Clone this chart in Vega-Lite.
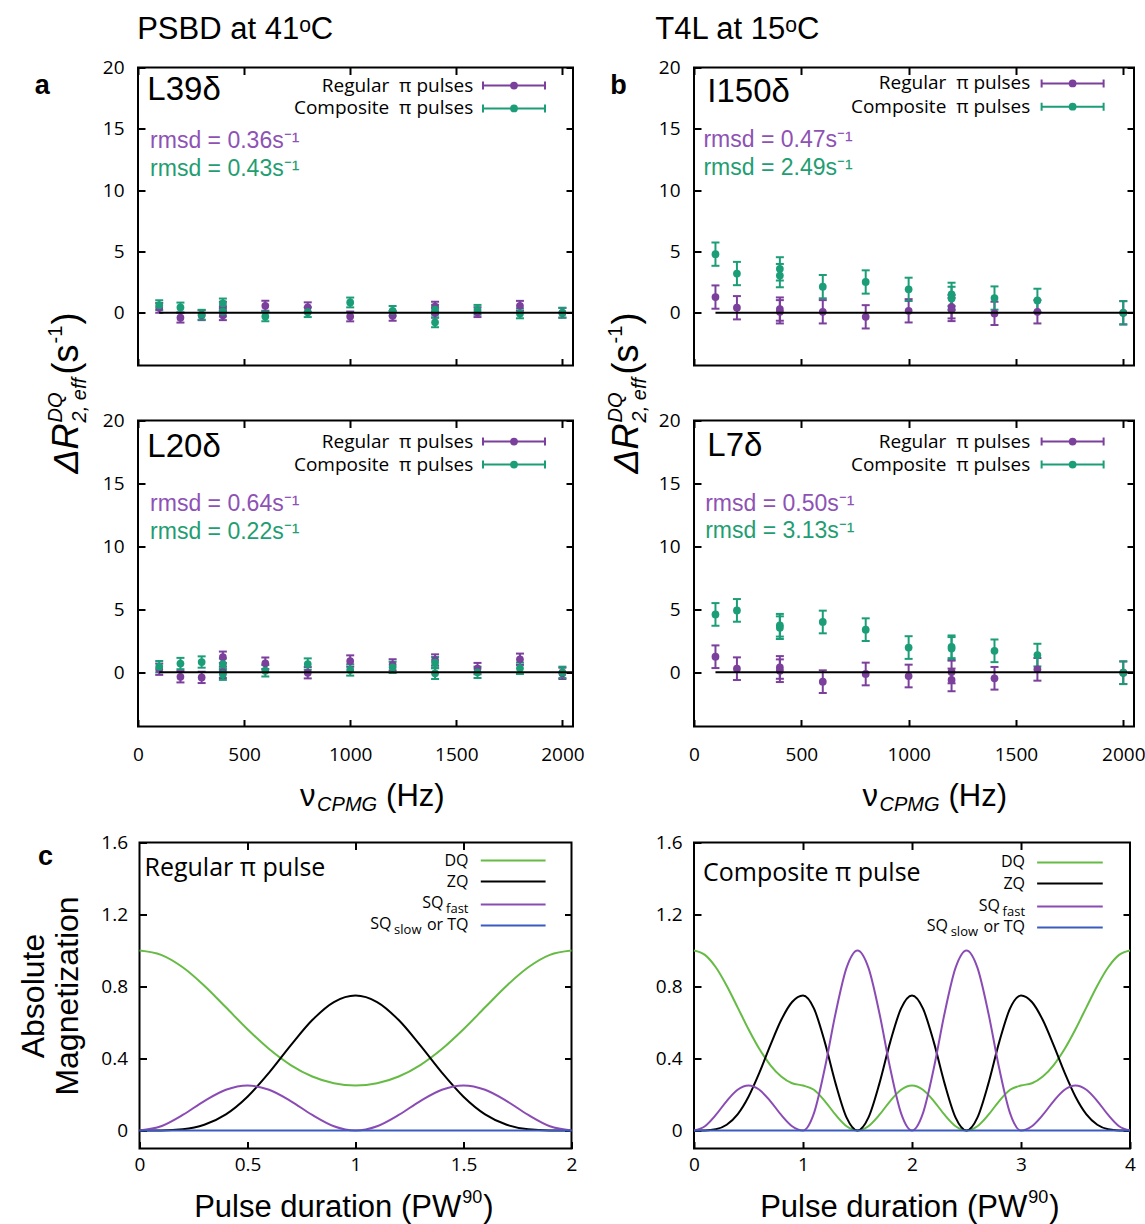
{
"$schema": "https://vega.github.io/schema/vega-lite/v6.json",
"background": "white",
"padding": {"left": 16, "top": 12.5, "right": 0, "bottom": 0},
"config": {
  "view": {"stroke": "black", "strokeWidth": 2},
  "axis": {"grid": false, "domain": false, "ticks": true, "tickSize": -7, "tickWidth": 2, "tickColor": "black", "labelFont": "Open Sans", "labelFontSize": 19, "labelColor": "black", "labelFlush": false, "labelOverlap": false, "titleFont": "Liberation Sans", "titleFontWeight": "normal", "titleColor": "black"},
  "text": {"color": "black"}
},
"datasets": {
"pts": [
{"panel":"a","series":"Regular","nu":100,"v":0.4,"err":0.4},
{"panel":"a","series":"Regular","nu":200,"v":-0.4,"err":0.4},
{"panel":"a","series":"Regular","nu":300,"v":-0.2,"err":0.4},
{"panel":"a","series":"Regular","nu":400,"v":0.5,"err":0.4},
{"panel":"a","series":"Regular","nu":400,"v":-0.2,"err":0.4},
{"panel":"a","series":"Regular","nu":600,"v":0.57,"err":0.4},
{"panel":"a","series":"Regular","nu":800,"v":0.45,"err":0.4},
{"panel":"a","series":"Regular","nu":1000,"v":-0.3,"err":0.4},
{"panel":"a","series":"Regular","nu":1200,"v":-0.25,"err":0.4},
{"panel":"a","series":"Regular","nu":1400,"v":0.5,"err":0.4},
{"panel":"a","series":"Regular","nu":1400,"v":0.0,"err":0.4},
{"panel":"a","series":"Regular","nu":1600,"v":0.05,"err":0.4},
{"panel":"a","series":"Regular","nu":1800,"v":0.57,"err":0.4},
{"panel":"a","series":"Regular","nu":2000,"v":0.0,"err":0.4},
{"panel":"a","series":"Composite","nu":100,"v":0.62,"err":0.4},
{"panel":"a","series":"Composite","nu":200,"v":0.43,"err":0.4},
{"panel":"a","series":"Composite","nu":300,"v":-0.16,"err":0.4},
{"panel":"a","series":"Composite","nu":400,"v":0.76,"err":0.4},
{"panel":"a","series":"Composite","nu":400,"v":0.1,"err":0.4},
{"panel":"a","series":"Composite","nu":600,"v":-0.3,"err":0.4},
{"panel":"a","series":"Composite","nu":800,"v":0.05,"err":0.4},
{"panel":"a","series":"Composite","nu":1000,"v":0.84,"err":0.4},
{"panel":"a","series":"Composite","nu":1200,"v":0.16,"err":0.4},
{"panel":"a","series":"Composite","nu":1400,"v":0.25,"err":0.4},
{"panel":"a","series":"Composite","nu":1400,"v":-0.78,"err":0.4},
{"panel":"a","series":"Composite","nu":1600,"v":0.24,"err":0.4},
{"panel":"a","series":"Composite","nu":1800,"v":-0.05,"err":0.4},
{"panel":"a","series":"Composite","nu":2000,"v":0.0,"err":0.4},
{"panel":"a2","series":"Regular","nu":100,"v":0.25,"err":0.45},
{"panel":"a2","series":"Regular","nu":200,"v":-0.35,"err":0.45},
{"panel":"a2","series":"Regular","nu":300,"v":-0.4,"err":0.45},
{"panel":"a2","series":"Regular","nu":400,"v":1.2,"err":0.45},
{"panel":"a2","series":"Regular","nu":400,"v":0.0,"err":0.45},
{"panel":"a2","series":"Regular","nu":600,"v":0.72,"err":0.45},
{"panel":"a2","series":"Regular","nu":800,"v":-0.03,"err":0.45},
{"panel":"a2","series":"Regular","nu":1000,"v":0.9,"err":0.45},
{"panel":"a2","series":"Regular","nu":1200,"v":0.6,"err":0.45},
{"panel":"a2","series":"Regular","nu":1400,"v":0.98,"err":0.45},
{"panel":"a2","series":"Regular","nu":1600,"v":0.3,"err":0.45},
{"panel":"a2","series":"Regular","nu":1800,"v":1.04,"err":0.45},
{"panel":"a2","series":"Regular","nu":2000,"v":-0.08,"err":0.45},
{"panel":"a2","series":"Composite","nu":100,"v":0.45,"err":0.45},
{"panel":"a2","series":"Composite","nu":200,"v":0.7,"err":0.45},
{"panel":"a2","series":"Composite","nu":300,"v":0.82,"err":0.45},
{"panel":"a2","series":"Composite","nu":400,"v":0.65,"err":0.45},
{"panel":"a2","series":"Composite","nu":400,"v":-0.15,"err":0.45},
{"panel":"a2","series":"Composite","nu":600,"v":0.13,"err":0.45},
{"panel":"a2","series":"Composite","nu":800,"v":0.66,"err":0.45},
{"panel":"a2","series":"Composite","nu":1000,"v":0.19,"err":0.45},
{"panel":"a2","series":"Composite","nu":1200,"v":0.4,"err":0.45},
{"panel":"a2","series":"Composite","nu":1400,"v":0.77,"err":0.45},
{"panel":"a2","series":"Composite","nu":1400,"v":-0.08,"err":0.45},
{"panel":"a2","series":"Composite","nu":1600,"v":0.0,"err":0.45},
{"panel":"a2","series":"Composite","nu":1800,"v":0.32,"err":0.45},
{"panel":"a2","series":"Composite","nu":2000,"v":0.0,"err":0.45},
{"panel":"b","series":"Regular","nu":100,"v":1.28,"err":0.95},
{"panel":"b","series":"Regular","nu":200,"v":0.41,"err":0.95},
{"panel":"b","series":"Regular","nu":400,"v":0.3,"err":0.95},
{"panel":"b","series":"Regular","nu":400,"v":0.08,"err":0.95},
{"panel":"b","series":"Regular","nu":600,"v":0.08,"err":0.95},
{"panel":"b","series":"Regular","nu":800,"v":-0.33,"err":0.95},
{"panel":"b","series":"Regular","nu":1000,"v":0.16,"err":0.95},
{"panel":"b","series":"Regular","nu":1200,"v":0.49,"err":0.95},
{"panel":"b","series":"Regular","nu":1200,"v":0.27,"err":0.95},
{"panel":"b","series":"Regular","nu":1400,"v":-0.05,"err":0.95},
{"panel":"b","series":"Regular","nu":1600,"v":0.08,"err":0.95},
{"panel":"b","series":"Regular","nu":2000,"v":0.0,"err":0.95},
{"panel":"b","series":"Composite","nu":100,"v":4.78,"err":0.95},
{"panel":"b","series":"Composite","nu":200,"v":3.2,"err":0.95},
{"panel":"b","series":"Composite","nu":400,"v":3.58,"err":0.95},
{"panel":"b","series":"Composite","nu":400,"v":3.03,"err":0.95},
{"panel":"b","series":"Composite","nu":600,"v":2.13,"err":0.95},
{"panel":"b","series":"Composite","nu":800,"v":2.51,"err":0.95},
{"panel":"b","series":"Composite","nu":1000,"v":1.91,"err":0.95},
{"panel":"b","series":"Composite","nu":1200,"v":1.5,"err":0.95},
{"panel":"b","series":"Composite","nu":1200,"v":1.17,"err":0.95},
{"panel":"b","series":"Composite","nu":1400,"v":1.2,"err":0.95},
{"panel":"b","series":"Composite","nu":1600,"v":1.01,"err":0.95},
{"panel":"b","series":"Composite","nu":2000,"v":0.0,"err":0.95},
{"panel":"b2","series":"Regular","nu":100,"v":1.24,"err":0.9},
{"panel":"b2","series":"Regular","nu":200,"v":0.29,"err":0.9},
{"panel":"b2","series":"Regular","nu":400,"v":0.39,"err":0.9},
{"panel":"b2","series":"Regular","nu":400,"v":0.13,"err":0.9},
{"panel":"b2","series":"Regular","nu":600,"v":-0.74,"err":0.9},
{"panel":"b2","series":"Regular","nu":800,"v":-0.13,"err":0.9},
{"panel":"b2","series":"Regular","nu":1000,"v":-0.29,"err":0.9},
{"panel":"b2","series":"Regular","nu":1200,"v":0.03,"err":0.9},
{"panel":"b2","series":"Regular","nu":1200,"v":-0.6,"err":0.9},
{"panel":"b2","series":"Regular","nu":1400,"v":-0.47,"err":0.9},
{"panel":"b2","series":"Regular","nu":1600,"v":0.24,"err":0.9},
{"panel":"b2","series":"Regular","nu":2000,"v":-0.03,"err":0.9},
{"panel":"b2","series":"Composite","nu":100,"v":4.6,"err":0.9},
{"panel":"b2","series":"Composite","nu":200,"v":4.92,"err":0.9},
{"panel":"b2","series":"Composite","nu":400,"v":3.74,"err":0.9},
{"panel":"b2","series":"Composite","nu":400,"v":3.55,"err":0.9},
{"panel":"b2","series":"Composite","nu":600,"v":4.0,"err":0.9},
{"panel":"b2","series":"Composite","nu":800,"v":3.39,"err":0.9},
{"panel":"b2","series":"Composite","nu":1000,"v":1.97,"err":0.9},
{"panel":"b2","series":"Composite","nu":1200,"v":2.03,"err":0.9},
{"panel":"b2","series":"Composite","nu":1200,"v":1.9,"err":0.9},
{"panel":"b2","series":"Composite","nu":1400,"v":1.71,"err":0.9},
{"panel":"b2","series":"Composite","nu":1600,"v":1.37,"err":0.9},
{"panel":"b2","series":"Composite","nu":2000,"v":-0.03,"err":0.9}
],
"creg": [
{"x":0,"DQ":1,"ZQ":0,"SQf":0,"SQs":0},
{"x":0.1,"DQ":0.9757,"ZQ":0.0004,"SQf":0.0239,"SQs":0},
{"x":0.2,"DQ":0.9068,"ZQ":0.0068,"SQf":0.0864,"SQs":0},
{"x":0.3,"DQ":0.8045,"ZQ":0.0319,"SQf":0.1636,"SQs":0},
{"x":0.4,"DQ":0.6843,"ZQ":0.0895,"SQf":0.2261,"SQs":0},
{"x":0.5,"DQ":0.5625,"ZQ":0.1875,"SQf":0.25,"SQs":0},
{"x":0.6,"DQ":0.4526,"ZQ":0.3213,"SQf":0.2261,"SQs":0},
{"x":0.7,"DQ":0.3637,"ZQ":0.4727,"SQf":0.1636,"SQs":0},
{"x":0.8,"DQ":0.3,"ZQ":0.6136,"SQf":0.0864,"SQs":0},
{"x":0.9,"DQ":0.2624,"ZQ":0.7137,"SQf":0.0239,"SQs":0},
{"x":1.0,"DQ":0.25,"ZQ":0.75,"SQf":0,"SQs":0},
{"x":1.1,"DQ":0.2624,"ZQ":0.7137,"SQf":0.0239,"SQs":0},
{"x":1.2,"DQ":0.3,"ZQ":0.6136,"SQf":0.0864,"SQs":0},
{"x":1.3,"DQ":0.3637,"ZQ":0.4727,"SQf":0.1636,"SQs":0},
{"x":1.4,"DQ":0.4526,"ZQ":0.3213,"SQf":0.2261,"SQs":0},
{"x":1.5,"DQ":0.5625,"ZQ":0.1875,"SQf":0.25,"SQs":0},
{"x":1.6,"DQ":0.6843,"ZQ":0.0895,"SQf":0.2261,"SQs":0},
{"x":1.7,"DQ":0.8045,"ZQ":0.0319,"SQf":0.1636,"SQs":0},
{"x":1.8,"DQ":0.9068,"ZQ":0.0068,"SQf":0.0864,"SQs":0},
{"x":1.9,"DQ":0.9757,"ZQ":0.0004,"SQf":0.0239,"SQs":0},
{"x":2.0,"DQ":1,"ZQ":0,"SQf":0,"SQs":0}
],
"ccomp": [
{"x":0,"DQ":1,"ZQ":0,"SQf":0,"SQs":0},
{"x":0.1,"DQ":0.9757,"ZQ":0.0004,"SQf":0.0239,"SQs":0},
{"x":0.2,"DQ":0.9068,"ZQ":0.0068,"SQf":0.0864,"SQs":0},
{"x":0.3,"DQ":0.8045,"ZQ":0.0319,"SQf":0.1636,"SQs":0},
{"x":0.4,"DQ":0.6843,"ZQ":0.0895,"SQf":0.2261,"SQs":0},
{"x":0.5,"DQ":0.5625,"ZQ":0.1875,"SQf":0.25,"SQs":0},
{"x":0.6,"DQ":0.4526,"ZQ":0.3213,"SQf":0.2261,"SQs":0},
{"x":0.7,"DQ":0.3637,"ZQ":0.4727,"SQf":0.1636,"SQs":0},
{"x":0.8,"DQ":0.3,"ZQ":0.6136,"SQf":0.0864,"SQs":0},
{"x":0.9,"DQ":0.2624,"ZQ":0.7137,"SQf":0.0239,"SQs":0},
{"x":1.0,"DQ":0.25,"ZQ":0.75,"SQf":0,"SQs":0},
{"x":1.1,"DQ":0.2261,"ZQ":0.6784,"SQf":0.0955,"SQs":0},
{"x":1.2,"DQ":0.1636,"ZQ":0.4909,"SQf":0.3455,"SQs":0},
{"x":1.3,"DQ":0.0864,"ZQ":0.2591,"SQf":0.6545,"SQs":0},
{"x":1.4,"DQ":0.0239,"ZQ":0.0716,"SQf":0.9045,"SQs":0},
{"x":1.5,"DQ":0,"ZQ":0,"SQf":1,"SQs":0},
{"x":1.6,"DQ":0.0239,"ZQ":0.0716,"SQf":0.9045,"SQs":0},
{"x":1.7,"DQ":0.0864,"ZQ":0.2591,"SQf":0.6545,"SQs":0},
{"x":1.8,"DQ":0.1636,"ZQ":0.4909,"SQf":0.3455,"SQs":0},
{"x":1.9,"DQ":0.2261,"ZQ":0.6784,"SQf":0.0955,"SQs":0},
{"x":2.0,"DQ":0.25,"ZQ":0.75,"SQf":0,"SQs":0},
{"x":2.1,"DQ":0.2261,"ZQ":0.6784,"SQf":0.0955,"SQs":0},
{"x":2.2,"DQ":0.1636,"ZQ":0.4909,"SQf":0.3455,"SQs":0},
{"x":2.3,"DQ":0.0864,"ZQ":0.2591,"SQf":0.6545,"SQs":0},
{"x":2.4,"DQ":0.0239,"ZQ":0.0716,"SQf":0.9045,"SQs":0},
{"x":2.5,"DQ":0,"ZQ":0,"SQf":1,"SQs":0},
{"x":2.6,"DQ":0.0239,"ZQ":0.0716,"SQf":0.9045,"SQs":0},
{"x":2.7,"DQ":0.0864,"ZQ":0.2591,"SQf":0.6545,"SQs":0},
{"x":2.8,"DQ":0.1636,"ZQ":0.4909,"SQf":0.3455,"SQs":0},
{"x":2.9,"DQ":0.2261,"ZQ":0.6784,"SQf":0.0955,"SQs":0},
{"x":3.0,"DQ":0.25,"ZQ":0.75,"SQf":0,"SQs":0},
{"x":3.1,"DQ":0.2624,"ZQ":0.7137,"SQf":0.0239,"SQs":0},
{"x":3.2,"DQ":0.3,"ZQ":0.6136,"SQf":0.0864,"SQs":0},
{"x":3.3,"DQ":0.3637,"ZQ":0.4727,"SQf":0.1636,"SQs":0},
{"x":3.4,"DQ":0.4526,"ZQ":0.3213,"SQf":0.2261,"SQs":0},
{"x":3.5,"DQ":0.5625,"ZQ":0.1875,"SQf":0.25,"SQs":0},
{"x":3.6,"DQ":0.6843,"ZQ":0.0895,"SQf":0.2261,"SQs":0},
{"x":3.7,"DQ":0.8045,"ZQ":0.0319,"SQf":0.1636,"SQs":0},
{"x":3.8,"DQ":0.9068,"ZQ":0.0068,"SQf":0.0864,"SQs":0},
{"x":3.9,"DQ":0.9757,"ZQ":0.0004,"SQf":0.0239,"SQs":0},
{"x":4.0,"DQ":1,"ZQ":0,"SQf":0,"SQs":0}
]
},
"bounds": "flush",
"columns": 2,
"center": true,
"spacing": {"row": 55, "column": 121},
"concat": [
{
"width": 435, "height": 298,
"resolve": {"axis": {"x": "independent", "y": "independent"}},
"layer": [
{"data": {"name": "pts"}, "transform": [{"filter": "datum.panel === 'a'"}],
 "resolve": {"axis": {"x": "independent", "y": "independent"}},
 "layer": [
  {"mark": {"type": "errorbar", "thickness": 2, "ticks": {"size": 8, "opacity": 1}},
   "encoding": {"x": {"field": "nu", "type": "quantitative", "scale": {"domain": [0, 2050], "nice": false, "zero": false}, "axis": null},
     "y": {"field": "v", "type": "quantitative", "scale": {"domain": [-4.3, 20], "nice": false, "zero": false}, "axis": null},
     "yError": {"field": "err"},
     "color": {"field": "series", "type": "nominal", "scale": {"domain": ["Regular", "Composite"], "range": ["#7b3f9c", "#1b9e77"]}, "legend": null}}},
  {"mark": {"type": "circle", "size": 60, "opacity": 1},
   "encoding": {"x": {"field": "nu", "type": "quantitative", "axis": {"orient": "bottom", "values": [0, 500, 1000, 1500, 2000], "labels": false, "title": null}},
     "y": {"field": "v", "type": "quantitative", "axis": {"orient": "left", "values": [0, 5, 10, 15, 20], "labelPadding": 21, "title": null}},
     "color": {"field": "series", "type": "nominal", "legend": null}}}
 ]},
{"data": {"values": [{}]},
 "resolve": {"axis": {"x": "independent", "y": "independent"}},
 "layer": [
  {"mark": {"type": "rule", "color": "black", "strokeWidth": 2},
   "encoding": {"x": {"datum": 100, "axis": {"orient": "top", "values": [0, 500, 1000, 1500, 2000], "labels": false, "title": null}}, "x2": {"datum": 2050},
     "y": {"datum": 0, "axis": {"orient": "right", "values": [0, 5, 10, 15, 20], "labels": false, "title": null}}}},
  {"mark": {"type": "text", "text": "PSBD at 41ᵒC", "font": "Liberation Sans", "fontSize": 31, "align": "left", "baseline": "middle"},
   "encoding": {"x": {"datum": -4, "axis": null}, "y": {"datum": 23.03, "axis": null}}},
  {"mark": {"type": "text", "text": "a", "font": "Liberation Sans", "fontSize": 27, "fontWeight": "bold", "align": "center", "baseline": "middle"},
   "encoding": {"x": {"datum": -451, "axis": null}, "y": {"datum": 18.5, "axis": null}}},
  {"mark": {"type": "text", "text": "L39δ", "font": "Liberation Sans", "fontSize": 33, "align": "left", "baseline": "middle"},
   "encoding": {"x": {"datum": 44, "axis": null}, "y": {"datum": 18.13, "axis": null}}},
  {"mark": {"type": "text", "text": "rmsd = 0.36s⁻¹", "font": "Liberation Sans", "fontSize": 23, "align": "left", "baseline": "middle", "color": "#8e52b5"},
   "encoding": {"x": {"datum": 57, "axis": null}, "y": {"datum": 13.97, "axis": null}}},
  {"mark": {"type": "text", "text": "rmsd = 0.43s⁻¹", "font": "Liberation Sans", "fontSize": 23, "align": "left", "baseline": "middle", "color": "#1f9e72"},
   "encoding": {"x": {"datum": 57, "axis": null}, "y": {"datum": 11.69, "axis": null}}},
  {"mark": {"type": "text", "text": "Regular\u00a0 π pulses", "font": "Open Sans", "fontSize": 19, "align": "right", "baseline": "middle"},
   "encoding": {"x": {"datum": 1580, "axis": null}, "y": {"datum": 18.53, "axis": null}}},
  {"mark": {"type": "text", "text": "Composite\u00a0 π pulses", "font": "Open Sans", "fontSize": 19, "align": "right", "baseline": "middle"},
   "encoding": {"x": {"datum": 1580, "axis": null}, "y": {"datum": 16.66, "axis": null}}},
  {"mark": {"type": "point", "shape": "M-1,0H1M-1,-0.13V0.13M1,-0.13V0.13", "size": 3844, "filled": false, "strokeWidth": 2, "color": "#7b3f9c", "opacity": 1},
   "encoding": {"x": {"datum": 1772, "axis": null}, "y": {"datum": 18.53, "axis": null}}},
  {"mark": {"type": "point", "shape": "M-1,0H1M-1,-0.13V0.13M1,-0.13V0.13", "size": 3844, "filled": false, "strokeWidth": 2, "color": "#1b9e77", "opacity": 1},
   "encoding": {"x": {"datum": 1772, "axis": null}, "y": {"datum": 16.66, "axis": null}}},
  {"mark": {"type": "circle", "size": 60, "color": "#7b3f9c", "opacity": 1},
   "encoding": {"x": {"datum": 1772, "axis": null}, "y": {"datum": 18.53, "axis": null}}},
  {"mark": {"type": "circle", "size": 60, "color": "#1b9e77", "opacity": 1},
   "encoding": {"x": {"datum": 1772, "axis": null}, "y": {"datum": 16.66, "axis": null}}}
 ]}
]
},
{
"width": 440, "height": 298,
"resolve": {"axis": {"x": "independent", "y": "independent"}},
"layer": [
{"data": {"name": "pts"}, "transform": [{"filter": "datum.panel === 'b'"}],
 "resolve": {"axis": {"x": "independent", "y": "independent"}},
 "layer": [
  {"mark": {"type": "errorbar", "thickness": 2, "ticks": {"size": 8, "opacity": 1}},
   "encoding": {"x": {"field": "nu", "type": "quantitative", "scale": {"domain": [0, 2050], "nice": false, "zero": false}, "axis": null},
     "y": {"field": "v", "type": "quantitative", "scale": {"domain": [-4.3, 20], "nice": false, "zero": false}, "axis": null},
     "yError": {"field": "err"},
     "color": {"field": "series", "type": "nominal", "scale": {"domain": ["Regular", "Composite"], "range": ["#7b3f9c", "#1b9e77"]}, "legend": null}}},
  {"mark": {"type": "circle", "size": 60, "opacity": 1},
   "encoding": {"x": {"field": "nu", "type": "quantitative", "axis": {"orient": "bottom", "values": [0, 500, 1000, 1500, 2000], "labels": false, "title": null}},
     "y": {"field": "v", "type": "quantitative", "axis": {"orient": "left", "values": [0, 5, 10, 15, 20], "labelPadding": 21, "title": null}},
     "color": {"field": "series", "type": "nominal", "legend": null}}}
 ]},
{"data": {"values": [{}]},
 "resolve": {"axis": {"x": "independent", "y": "independent"}},
 "layer": [
  {"mark": {"type": "rule", "color": "black", "strokeWidth": 2},
   "encoding": {"x": {"datum": 100, "axis": {"orient": "top", "values": [0, 500, 1000, 1500, 2000], "labels": false, "title": null}}, "x2": {"datum": 2050},
     "y": {"datum": 0, "axis": {"orient": "right", "values": [0, 5, 10, 15, 20], "labels": false, "title": null}}}},
  {"mark": {"type": "text", "text": "T4L at 15ᵒC", "font": "Liberation Sans", "fontSize": 31, "align": "left", "baseline": "middle"},
   "encoding": {"x": {"datum": -180, "axis": null}, "y": {"datum": 23.03, "axis": null}}},
  {"mark": {"type": "text", "text": "b", "font": "Liberation Sans", "fontSize": 27, "fontWeight": "bold", "align": "center", "baseline": "middle"},
   "encoding": {"x": {"datum": -352, "axis": null}, "y": {"datum": 18.5, "axis": null}}},
  {"mark": {"type": "text", "text": "I150δ", "font": "Liberation Sans", "fontSize": 33, "align": "left", "baseline": "middle"},
   "encoding": {"x": {"datum": 62, "axis": null}, "y": {"datum": 17.97, "axis": null}}},
  {"mark": {"type": "text", "text": "rmsd = 0.47s⁻¹", "font": "Liberation Sans", "fontSize": 23, "align": "left", "baseline": "middle", "color": "#8e52b5"},
   "encoding": {"x": {"datum": 44, "axis": null}, "y": {"datum": 14.05, "axis": null}}},
  {"mark": {"type": "text", "text": "rmsd = 2.49s⁻¹", "font": "Liberation Sans", "fontSize": 23, "align": "left", "baseline": "middle", "color": "#1f9e72"},
   "encoding": {"x": {"datum": 44, "axis": null}, "y": {"datum": 11.77, "axis": null}}},
  {"mark": {"type": "text", "text": "Regular\u00a0 π pulses", "font": "Open Sans", "fontSize": 19, "align": "right", "baseline": "middle"},
   "encoding": {"x": {"datum": 1567, "axis": null}, "y": {"datum": 18.7, "axis": null}}},
  {"mark": {"type": "text", "text": "Composite\u00a0 π pulses", "font": "Open Sans", "fontSize": 19, "align": "right", "baseline": "middle"},
   "encoding": {"x": {"datum": 1567, "axis": null}, "y": {"datum": 16.8, "axis": null}}},
  {"mark": {"type": "point", "shape": "M-1,0H1M-1,-0.13V0.13M1,-0.13V0.13", "size": 3844, "filled": false, "strokeWidth": 2, "color": "#7b3f9c", "opacity": 1},
   "encoding": {"x": {"datum": 1764, "axis": null}, "y": {"datum": 18.7, "axis": null}}},
  {"mark": {"type": "point", "shape": "M-1,0H1M-1,-0.13V0.13M1,-0.13V0.13", "size": 3844, "filled": false, "strokeWidth": 2, "color": "#1b9e77", "opacity": 1},
   "encoding": {"x": {"datum": 1764, "axis": null}, "y": {"datum": 16.8, "axis": null}}},
  {"mark": {"type": "circle", "size": 60, "color": "#7b3f9c", "opacity": 1},
   "encoding": {"x": {"datum": 1764, "axis": null}, "y": {"datum": 18.7, "axis": null}}},
  {"mark": {"type": "circle", "size": 60, "color": "#1b9e77", "opacity": 1},
   "encoding": {"x": {"datum": 1764, "axis": null}, "y": {"datum": 16.8, "axis": null}}}
 ]}
]
},
{
"width": 435, "height": 306,
"resolve": {"axis": {"x": "independent", "y": "independent"}},
"layer": [
{"data": {"name": "pts"}, "transform": [{"filter": "datum.panel === 'a2'"}],
 "resolve": {"axis": {"x": "independent", "y": "independent"}},
 "layer": [
  {"mark": {"type": "errorbar", "thickness": 2, "ticks": {"size": 8, "opacity": 1}},
   "encoding": {"x": {"field": "nu", "type": "quantitative", "scale": {"domain": [0, 2050], "nice": false, "zero": false}, "axis": null},
     "y": {"field": "v", "type": "quantitative", "scale": {"domain": [-4.3, 20], "nice": false, "zero": false}, "axis": null},
     "yError": {"field": "err"},
     "color": {"field": "series", "type": "nominal", "scale": {"domain": ["Regular", "Composite"], "range": ["#7b3f9c", "#1b9e77"]}, "legend": null}}},
  {"mark": {"type": "circle", "size": 60, "opacity": 1},
   "encoding": {"x": {"field": "nu", "type": "quantitative", "axis": {"orient": "bottom", "values": [0, 500, 1000, 1500, 2000], "format": "d", "labelPadding": 26, "title": null}},
     "y": {"field": "v", "type": "quantitative", "axis": {"orient": "left", "values": [0, 5, 10, 15, 20], "labelPadding": 21, "title": null}},
     "color": {"field": "series", "type": "nominal", "legend": null}}}
 ]},
{"data": {"values": [{}]},
 "resolve": {"axis": {"x": "independent", "y": "independent"}},
 "layer": [
  {"mark": {"type": "rule", "color": "black", "strokeWidth": 2},
   "encoding": {"x": {"datum": 100, "axis": {"orient": "top", "values": [0, 500, 1000, 1500, 2000], "labels": false, "title": null}}, "x2": {"datum": 2050},
     "y": {"datum": 0, "axis": {"orient": "right", "values": [0, 5, 10, 15, 20], "labels": false, "title": null}}}},
  {"mark": {"type": "text", "text": "L20δ", "font": "Liberation Sans", "fontSize": 33, "align": "left", "baseline": "middle"},
   "encoding": {"x": {"datum": 44, "axis": null}, "y": {"datum": 17.86, "axis": null}}},
  {"mark": {"type": "text", "text": "rmsd = 0.64s⁻¹", "font": "Liberation Sans", "fontSize": 23, "align": "left", "baseline": "middle", "color": "#8e52b5"},
   "encoding": {"x": {"datum": 57, "axis": null}, "y": {"datum": 13.33, "axis": null}}},
  {"mark": {"type": "text", "text": "rmsd = 0.22s⁻¹", "font": "Liberation Sans", "fontSize": 23, "align": "left", "baseline": "middle", "color": "#1f9e72"},
   "encoding": {"x": {"datum": 57, "axis": null}, "y": {"datum": 11.11, "axis": null}}},
  {"mark": {"type": "text", "text": "Regular\u00a0 π pulses", "font": "Open Sans", "fontSize": 19, "align": "right", "baseline": "middle"},
   "encoding": {"x": {"datum": 1580, "axis": null}, "y": {"datum": 18.33, "axis": null}}},
  {"mark": {"type": "text", "text": "Composite\u00a0 π pulses", "font": "Open Sans", "fontSize": 19, "align": "right", "baseline": "middle"},
   "encoding": {"x": {"datum": 1580, "axis": null}, "y": {"datum": 16.5, "axis": null}}},
  {"mark": {"type": "point", "shape": "M-1,0H1M-1,-0.13V0.13M1,-0.13V0.13", "size": 3844, "filled": false, "strokeWidth": 2, "color": "#7b3f9c", "opacity": 1},
   "encoding": {"x": {"datum": 1772, "axis": null}, "y": {"datum": 18.33, "axis": null}}},
  {"mark": {"type": "point", "shape": "M-1,0H1M-1,-0.13V0.13M1,-0.13V0.13", "size": 3844, "filled": false, "strokeWidth": 2, "color": "#1b9e77", "opacity": 1},
   "encoding": {"x": {"datum": 1772, "axis": null}, "y": {"datum": 16.5, "axis": null}}},
  {"mark": {"type": "circle", "size": 60, "color": "#7b3f9c", "opacity": 1},
   "encoding": {"x": {"datum": 1772, "axis": null}, "y": {"datum": 18.33, "axis": null}}},
  {"mark": {"type": "circle", "size": 60, "color": "#1b9e77", "opacity": 1},
   "encoding": {"x": {"datum": 1772, "axis": null}, "y": {"datum": 16.5, "axis": null}}},
  {"mark": {"type": "text", "text": "Δ", "font": "Liberation Sans", "fontStyle": "italic", "fontSize": 36, "angle": 270, "align": "left", "baseline": "alphabetic", "dx": 0},
   "encoding": {"x": {"datum": -282, "axis": null}, "y": {"datum": 15.8, "axis": null}}},
  {"mark": {"type": "text", "text": "R", "font": "Liberation Sans", "fontStyle": "italic", "fontSize": 36, "angle": 270, "align": "left", "baseline": "alphabetic", "dx": 24},
   "encoding": {"x": {"datum": -282, "axis": null}, "y": {"datum": 15.8, "axis": null}}},
  {"mark": {"type": "text", "text": "DQ", "font": "Liberation Sans", "fontStyle": "italic", "fontSize": 20, "angle": 270, "align": "left", "baseline": "alphabetic", "dx": 51, "dy": -16},
   "encoding": {"x": {"datum": -282, "axis": null}, "y": {"datum": 15.8, "axis": null}}},
  {"mark": {"type": "text", "text": "2, eff", "font": "Liberation Sans", "fontStyle": "italic", "fontSize": 20, "angle": 270, "align": "left", "baseline": "alphabetic", "dx": 51, "dy": 8},
   "encoding": {"x": {"datum": -282, "axis": null}, "y": {"datum": 15.8, "axis": null}}},
  {"mark": {"type": "text", "text": "(s", "font": "Liberation Sans", "fontSize": 36, "angle": 270, "align": "left", "baseline": "alphabetic", "dx": 99},
   "encoding": {"x": {"datum": -282, "axis": null}, "y": {"datum": 15.8, "axis": null}}},
  {"mark": {"type": "text", "text": "-1", "font": "Liberation Sans", "fontSize": 20, "angle": 270, "align": "left", "baseline": "alphabetic", "dx": 130, "dy": -16},
   "encoding": {"x": {"datum": -282, "axis": null}, "y": {"datum": 15.8, "axis": null}}},
  {"mark": {"type": "text", "text": ")", "font": "Liberation Sans", "fontSize": 36, "angle": 270, "align": "left", "baseline": "alphabetic", "dx": 149},
   "encoding": {"x": {"datum": -282, "axis": null}, "y": {"datum": 15.8, "axis": null}}},
  {"mark": {"type": "text", "text": "ν", "font": "Liberation Sans", "fontSize": 31, "align": "left", "baseline": "middle", "dx": 0},
   "encoding": {"x": {"datum": 764, "axis": null}, "y": {"datum": -9.92, "axis": null}}},
  {"mark": {"type": "text", "text": "CPMG", "font": "Liberation Sans", "fontStyle": "italic", "fontSize": 20, "align": "left", "baseline": "middle", "dx": 17, "dy": 8},
   "encoding": {"x": {"datum": 764, "axis": null}, "y": {"datum": -9.92, "axis": null}}},
  {"mark": {"type": "text", "text": "(Hz)", "font": "Liberation Sans", "fontSize": 31, "align": "left", "baseline": "middle", "dx": 86},
   "encoding": {"x": {"datum": 764, "axis": null}, "y": {"datum": -9.92, "axis": null}}}
 ]}
]
},
{
"width": 440, "height": 306,
"resolve": {"axis": {"x": "independent", "y": "independent"}},
"layer": [
{"data": {"name": "pts"}, "transform": [{"filter": "datum.panel === 'b2'"}],
 "resolve": {"axis": {"x": "independent", "y": "independent"}},
 "layer": [
  {"mark": {"type": "errorbar", "thickness": 2, "ticks": {"size": 8, "opacity": 1}},
   "encoding": {"x": {"field": "nu", "type": "quantitative", "scale": {"domain": [0, 2050], "nice": false, "zero": false}, "axis": null},
     "y": {"field": "v", "type": "quantitative", "scale": {"domain": [-4.3, 20], "nice": false, "zero": false}, "axis": null},
     "yError": {"field": "err"},
     "color": {"field": "series", "type": "nominal", "scale": {"domain": ["Regular", "Composite"], "range": ["#7b3f9c", "#1b9e77"]}, "legend": null}}},
  {"mark": {"type": "circle", "size": 60, "opacity": 1},
   "encoding": {"x": {"field": "nu", "type": "quantitative", "axis": {"orient": "bottom", "values": [0, 500, 1000, 1500, 2000], "format": "d", "labelPadding": 26, "title": null}},
     "y": {"field": "v", "type": "quantitative", "axis": {"orient": "left", "values": [0, 5, 10, 15, 20], "labelPadding": 21, "title": null}},
     "color": {"field": "series", "type": "nominal", "legend": null}}}
 ]},
{"data": {"values": [{}]},
 "resolve": {"axis": {"x": "independent", "y": "independent"}},
 "layer": [
  {"mark": {"type": "rule", "color": "black", "strokeWidth": 2},
   "encoding": {"x": {"datum": 100, "axis": {"orient": "top", "values": [0, 500, 1000, 1500, 2000], "labels": false, "title": null}}, "x2": {"datum": 2050},
     "y": {"datum": 0, "axis": {"orient": "right", "values": [0, 5, 10, 15, 20], "labels": false, "title": null}}}},
  {"mark": {"type": "text", "text": "L7δ", "font": "Liberation Sans", "fontSize": 33, "align": "left", "baseline": "middle"},
   "encoding": {"x": {"datum": 62, "axis": null}, "y": {"datum": 18.0, "axis": null}}},
  {"mark": {"type": "text", "text": "rmsd = 0.50s⁻¹", "font": "Liberation Sans", "fontSize": 23, "align": "left", "baseline": "middle", "color": "#8e52b5"},
   "encoding": {"x": {"datum": 52, "axis": null}, "y": {"datum": 13.33, "axis": null}}},
  {"mark": {"type": "text", "text": "rmsd = 3.13s⁻¹", "font": "Liberation Sans", "fontSize": 23, "align": "left", "baseline": "middle", "color": "#1f9e72"},
   "encoding": {"x": {"datum": 52, "axis": null}, "y": {"datum": 11.19, "axis": null}}},
  {"mark": {"type": "text", "text": "Regular\u00a0 π pulses", "font": "Open Sans", "fontSize": 19, "align": "right", "baseline": "middle"},
   "encoding": {"x": {"datum": 1567, "axis": null}, "y": {"datum": 18.33, "axis": null}}},
  {"mark": {"type": "text", "text": "Composite\u00a0 π pulses", "font": "Open Sans", "fontSize": 19, "align": "right", "baseline": "middle"},
   "encoding": {"x": {"datum": 1567, "axis": null}, "y": {"datum": 16.5, "axis": null}}},
  {"mark": {"type": "point", "shape": "M-1,0H1M-1,-0.13V0.13M1,-0.13V0.13", "size": 3844, "filled": false, "strokeWidth": 2, "color": "#7b3f9c", "opacity": 1},
   "encoding": {"x": {"datum": 1764, "axis": null}, "y": {"datum": 18.33, "axis": null}}},
  {"mark": {"type": "point", "shape": "M-1,0H1M-1,-0.13V0.13M1,-0.13V0.13", "size": 3844, "filled": false, "strokeWidth": 2, "color": "#1b9e77", "opacity": 1},
   "encoding": {"x": {"datum": 1764, "axis": null}, "y": {"datum": 16.5, "axis": null}}},
  {"mark": {"type": "circle", "size": 60, "color": "#7b3f9c", "opacity": 1},
   "encoding": {"x": {"datum": 1764, "axis": null}, "y": {"datum": 18.33, "axis": null}}},
  {"mark": {"type": "circle", "size": 60, "color": "#1b9e77", "opacity": 1},
   "encoding": {"x": {"datum": 1764, "axis": null}, "y": {"datum": 16.5, "axis": null}}},
  {"mark": {"type": "text", "text": "Δ", "font": "Liberation Sans", "fontStyle": "italic", "fontSize": 36, "angle": 270, "align": "left", "baseline": "alphabetic", "dx": 0},
   "encoding": {"x": {"datum": -259, "axis": null}, "y": {"datum": 15.8, "axis": null}}},
  {"mark": {"type": "text", "text": "R", "font": "Liberation Sans", "fontStyle": "italic", "fontSize": 36, "angle": 270, "align": "left", "baseline": "alphabetic", "dx": 24},
   "encoding": {"x": {"datum": -259, "axis": null}, "y": {"datum": 15.8, "axis": null}}},
  {"mark": {"type": "text", "text": "DQ", "font": "Liberation Sans", "fontStyle": "italic", "fontSize": 20, "angle": 270, "align": "left", "baseline": "alphabetic", "dx": 51, "dy": -16},
   "encoding": {"x": {"datum": -259, "axis": null}, "y": {"datum": 15.8, "axis": null}}},
  {"mark": {"type": "text", "text": "2, eff", "font": "Liberation Sans", "fontStyle": "italic", "fontSize": 20, "angle": 270, "align": "left", "baseline": "alphabetic", "dx": 51, "dy": 8},
   "encoding": {"x": {"datum": -259, "axis": null}, "y": {"datum": 15.8, "axis": null}}},
  {"mark": {"type": "text", "text": "(s", "font": "Liberation Sans", "fontSize": 36, "angle": 270, "align": "left", "baseline": "alphabetic", "dx": 99},
   "encoding": {"x": {"datum": -259, "axis": null}, "y": {"datum": 15.8, "axis": null}}},
  {"mark": {"type": "text", "text": "-1", "font": "Liberation Sans", "fontSize": 20, "angle": 270, "align": "left", "baseline": "alphabetic", "dx": 130, "dy": -16},
   "encoding": {"x": {"datum": -259, "axis": null}, "y": {"datum": 15.8, "axis": null}}},
  {"mark": {"type": "text", "text": ")", "font": "Liberation Sans", "fontSize": 36, "angle": 270, "align": "left", "baseline": "alphabetic", "dx": 149},
   "encoding": {"x": {"datum": -259, "axis": null}, "y": {"datum": 15.8, "axis": null}}},
  {"mark": {"type": "text", "text": "ν", "font": "Liberation Sans", "fontSize": 31, "align": "left", "baseline": "middle", "dx": 0},
   "encoding": {"x": {"datum": 785, "axis": null}, "y": {"datum": -9.92, "axis": null}}},
  {"mark": {"type": "text", "text": "CPMG", "font": "Liberation Sans", "fontStyle": "italic", "fontSize": 20, "align": "left", "baseline": "middle", "dx": 17, "dy": 8},
   "encoding": {"x": {"datum": 785, "axis": null}, "y": {"datum": -9.92, "axis": null}}},
  {"mark": {"type": "text", "text": "(Hz)", "font": "Liberation Sans", "fontSize": 31, "align": "left", "baseline": "middle", "dx": 86},
   "encoding": {"x": {"datum": 785, "axis": null}, "y": {"datum": -9.92, "axis": null}}}
 ]}
]
},
{"width": 435, "height": 6, "view": {"stroke": null}, "data": {"values": [{}]}, "mark": {"type": "point", "opacity": 0}, "encoding": {}},
{"width": 440, "height": 6, "view": {"stroke": null}, "data": {"values": [{}]}, "mark": {"type": "point", "opacity": 0}, "encoding": {}},
{
"width": 432, "height": 306,
"data": {"name": "creg"},
"resolve": {"axis": {"x": "independent", "y": "independent"}},
"layer": [
 {"mark": {"type": "line", "color": "#66bb44", "strokeWidth": 2, "interpolate": "monotone"},
  "encoding": {"x": {"field": "x", "type": "quantitative", "scale": {"domain": [0, 2], "nice": false, "zero": false}, "axis": {"orient": "bottom", "values": [0, 0.5, 1, 1.5, 2], "format": "~g", "labelPadding": 14, "title": null}},
    "y": {"field": "DQ", "type": "quantitative", "scale": {"domain": [-0.1, 1.6], "nice": false, "zero": false}, "axis": {"orient": "left", "values": [0, 0.4, 0.8, 1.2, 1.6], "format": "~g", "labelPadding": 19, "title": ["Absolute", "Magnetization"], "titleFontSize": 32, "titlePadding": 16, "titleLineHeight": 34}}}},
 {"mark": {"type": "line", "color": "black", "strokeWidth": 2, "interpolate": "monotone"},
  "encoding": {"x": {"field": "x", "type": "quantitative", "axis": null}, "y": {"field": "ZQ", "type": "quantitative", "axis": null}}},
 {"mark": {"type": "line", "color": "#8a4cb4", "strokeWidth": 2, "interpolate": "monotone"},
  "encoding": {"x": {"field": "x", "type": "quantitative", "axis": null}, "y": {"field": "SQf", "type": "quantitative", "axis": null}}},
 {"mark": {"type": "line", "color": "#3a5bbf", "strokeWidth": 2},
  "encoding": {"x": {"field": "x", "type": "quantitative", "axis": {"orient": "top", "values": [0.5, 1, 1.5], "labels": false, "title": null}}, "y": {"field": "SQs", "type": "quantitative", "axis": {"orient": "right", "values": [0, 0.4, 0.8, 1.2], "labels": false, "title": null}}}},
 {"data": {"values": [{}]},
  "layer": [
   {"mark": {"type": "text", "text": "c", "font": "Liberation Sans", "fontSize": 27, "fontWeight": "bold", "align": "center", "baseline": "middle"},
    "encoding": {"x": {"datum": -0.435, "axis": null}, "y": {"datum": 1.517, "axis": null}}},
   {"mark": {"type": "text", "text": "Regular π pulse", "font": "Open Sans", "fontSize": 25, "align": "left", "baseline": "middle"},
    "encoding": {"x": {"datum": 0.023, "axis": null}, "y": {"datum": 1.456, "axis": null}}},
   {"mark": {"type": "rule", "color": "#66bb44", "strokeWidth": 2}, "encoding": {"x": {"datum": 1.58, "axis": null}, "x2": {"datum": 1.88}, "y": {"datum": 1.5, "axis": null}}},
   {"mark": {"type": "rule", "color": "black", "strokeWidth": 2}, "encoding": {"x": {"datum": 1.58, "axis": null}, "x2": {"datum": 1.88}, "y": {"datum": 1.383, "axis": null}}},
   {"mark": {"type": "rule", "color": "#8a4cb4", "strokeWidth": 2}, "encoding": {"x": {"datum": 1.58, "axis": null}, "x2": {"datum": 1.88}, "y": {"datum": 1.256, "axis": null}}},
   {"mark": {"type": "rule", "color": "#3a5bbf", "strokeWidth": 2}, "encoding": {"x": {"datum": 1.58, "axis": null}, "x2": {"datum": 1.88}, "y": {"datum": 1.139, "axis": null}}},
   {"mark": {"type": "text", "text": "DQ", "font": "Open Sans", "fontSize": 16, "align": "right", "baseline": "middle"},
    "encoding": {"x": {"datum": 1.523, "axis": null}, "y": {"datum": 1.5, "axis": null}}},
   {"mark": {"type": "text", "text": "ZQ", "font": "Open Sans", "fontSize": 16, "align": "right", "baseline": "middle"},
    "encoding": {"x": {"datum": 1.523, "axis": null}, "y": {"datum": 1.383, "axis": null}}},
   {"mark": {"type": "text", "text": "fast", "font": "Open Sans", "fontSize": 13, "align": "right", "baseline": "middle", "dy": 5},
    "encoding": {"x": {"datum": 1.523, "axis": null}, "y": {"datum": 1.256, "axis": null}}},
   {"mark": {"type": "text", "text": "SQ", "font": "Open Sans", "fontSize": 16, "align": "right", "baseline": "middle", "dx": -25, "dy": -1},
    "encoding": {"x": {"datum": 1.523, "axis": null}, "y": {"datum": 1.256, "axis": null}}},
   {"mark": {"type": "text", "text": "or TQ", "font": "Open Sans", "fontSize": 16, "align": "right", "baseline": "middle"},
    "encoding": {"x": {"datum": 1.523, "axis": null}, "y": {"datum": 1.139, "axis": null}}},
   {"mark": {"type": "text", "text": "slow", "font": "Open Sans", "fontSize": 13, "align": "right", "baseline": "middle", "dx": -47, "dy": 5},
    "encoding": {"x": {"datum": 1.523, "axis": null}, "y": {"datum": 1.139, "axis": null}}},
   {"mark": {"type": "text", "text": "SQ", "font": "Open Sans", "fontSize": 16, "align": "right", "baseline": "middle", "dx": -77, "dy": -1},
    "encoding": {"x": {"datum": 1.523, "axis": null}, "y": {"datum": 1.139, "axis": null}}},
   {"mark": {"type": "text", "text": "Pulse duration (PW", "font": "Liberation Sans", "fontSize": 31, "align": "left", "baseline": "middle"},
    "encoding": {"x": {"datum": 0.253, "axis": null}, "y": {"datum": -0.433, "axis": null}}},
   {"mark": {"type": "text", "text": "90", "font": "Liberation Sans", "fontSize": 18, "align": "left", "baseline": "middle", "dx": 268, "dy": -10},
    "encoding": {"x": {"datum": 0.253, "axis": null}, "y": {"datum": -0.433, "axis": null}}},
   {"mark": {"type": "text", "text": ")", "font": "Liberation Sans", "fontSize": 31, "align": "left", "baseline": "middle", "dx": 289},
    "encoding": {"x": {"datum": 0.253, "axis": null}, "y": {"datum": -0.433, "axis": null}}}
  ]}
]
},
{
"width": 436, "height": 306,
"data": {"name": "ccomp"},
"resolve": {"axis": {"x": "independent", "y": "independent"}},
"layer": [
 {"mark": {"type": "line", "color": "#66bb44", "strokeWidth": 2, "interpolate": "monotone"},
  "encoding": {"x": {"field": "x", "type": "quantitative", "scale": {"domain": [0, 4], "nice": false, "zero": false}, "axis": {"orient": "bottom", "values": [0, 1, 2, 3, 4], "format": "~g", "labelPadding": 14, "title": null}},
    "y": {"field": "DQ", "type": "quantitative", "scale": {"domain": [-0.1, 1.6], "nice": false, "zero": false}, "axis": {"orient": "left", "values": [0, 0.4, 0.8, 1.2, 1.6], "format": "~g", "labelPadding": 19, "title": null}}}},
 {"mark": {"type": "line", "color": "black", "strokeWidth": 2, "interpolate": "monotone"},
  "encoding": {"x": {"field": "x", "type": "quantitative", "axis": null}, "y": {"field": "ZQ", "type": "quantitative", "axis": null}}},
 {"mark": {"type": "line", "color": "#8a4cb4", "strokeWidth": 2, "interpolate": "monotone"},
  "encoding": {"x": {"field": "x", "type": "quantitative", "axis": null}, "y": {"field": "SQf", "type": "quantitative", "axis": null}}},
 {"mark": {"type": "line", "color": "#3a5bbf", "strokeWidth": 2},
  "encoding": {"x": {"field": "x", "type": "quantitative", "axis": {"orient": "top", "values": [1, 2, 3], "labels": false, "title": null}}, "y": {"field": "SQs", "type": "quantitative", "axis": {"orient": "right", "values": [0, 0.4, 0.8, 1.2], "labels": false, "title": null}}}},
 {"data": {"values": [{}]},
  "layer": [
   {"mark": {"type": "text", "text": "Composite π pulse", "font": "Open Sans", "fontSize": 25, "align": "left", "baseline": "middle"},
    "encoding": {"x": {"datum": 0.083, "axis": null}, "y": {"datum": 1.433, "axis": null}}},
   {"mark": {"type": "rule", "color": "#66bb44", "strokeWidth": 2}, "encoding": {"x": {"datum": 3.148, "axis": null}, "x2": {"datum": 3.75}, "y": {"datum": 1.489, "axis": null}}},
   {"mark": {"type": "rule", "color": "black", "strokeWidth": 2}, "encoding": {"x": {"datum": 3.148, "axis": null}, "x2": {"datum": 3.75}, "y": {"datum": 1.372, "axis": null}}},
   {"mark": {"type": "rule", "color": "#8a4cb4", "strokeWidth": 2}, "encoding": {"x": {"datum": 3.148, "axis": null}, "x2": {"datum": 3.75}, "y": {"datum": 1.244, "axis": null}}},
   {"mark": {"type": "rule", "color": "#3a5bbf", "strokeWidth": 2}, "encoding": {"x": {"datum": 3.148, "axis": null}, "x2": {"datum": 3.75}, "y": {"datum": 1.128, "axis": null}}},
   {"mark": {"type": "text", "text": "DQ", "font": "Open Sans", "fontSize": 16, "align": "right", "baseline": "middle"},
    "encoding": {"x": {"datum": 3.037, "axis": null}, "y": {"datum": 1.489, "axis": null}}},
   {"mark": {"type": "text", "text": "ZQ", "font": "Open Sans", "fontSize": 16, "align": "right", "baseline": "middle"},
    "encoding": {"x": {"datum": 3.037, "axis": null}, "y": {"datum": 1.372, "axis": null}}},
   {"mark": {"type": "text", "text": "fast", "font": "Open Sans", "fontSize": 13, "align": "right", "baseline": "middle", "dy": 5},
    "encoding": {"x": {"datum": 3.037, "axis": null}, "y": {"datum": 1.244, "axis": null}}},
   {"mark": {"type": "text", "text": "SQ", "font": "Open Sans", "fontSize": 16, "align": "right", "baseline": "middle", "dx": -25, "dy": -1},
    "encoding": {"x": {"datum": 3.037, "axis": null}, "y": {"datum": 1.244, "axis": null}}},
   {"mark": {"type": "text", "text": "or TQ", "font": "Open Sans", "fontSize": 16, "align": "right", "baseline": "middle"},
    "encoding": {"x": {"datum": 3.037, "axis": null}, "y": {"datum": 1.128, "axis": null}}},
   {"mark": {"type": "text", "text": "slow", "font": "Open Sans", "fontSize": 13, "align": "right", "baseline": "middle", "dx": -47, "dy": 5},
    "encoding": {"x": {"datum": 3.037, "axis": null}, "y": {"datum": 1.128, "axis": null}}},
   {"mark": {"type": "text", "text": "SQ", "font": "Open Sans", "fontSize": 16, "align": "right", "baseline": "middle", "dx": -77, "dy": -1},
    "encoding": {"x": {"datum": 3.037, "axis": null}, "y": {"datum": 1.128, "axis": null}}},
   {"mark": {"type": "text", "text": "Pulse duration (PW", "font": "Liberation Sans", "fontSize": 31, "align": "left", "baseline": "middle"},
    "encoding": {"x": {"datum": 0.607, "axis": null}, "y": {"datum": -0.433, "axis": null}}},
   {"mark": {"type": "text", "text": "90", "font": "Liberation Sans", "fontSize": 18, "align": "left", "baseline": "middle", "dx": 268, "dy": -10},
    "encoding": {"x": {"datum": 0.607, "axis": null}, "y": {"datum": -0.433, "axis": null}}},
   {"mark": {"type": "text", "text": ")", "font": "Liberation Sans", "fontSize": 31, "align": "left", "baseline": "middle", "dx": 289},
    "encoding": {"x": {"datum": 0.607, "axis": null}, "y": {"datum": -0.433, "axis": null}}}
  ]}
]
}
]
}
